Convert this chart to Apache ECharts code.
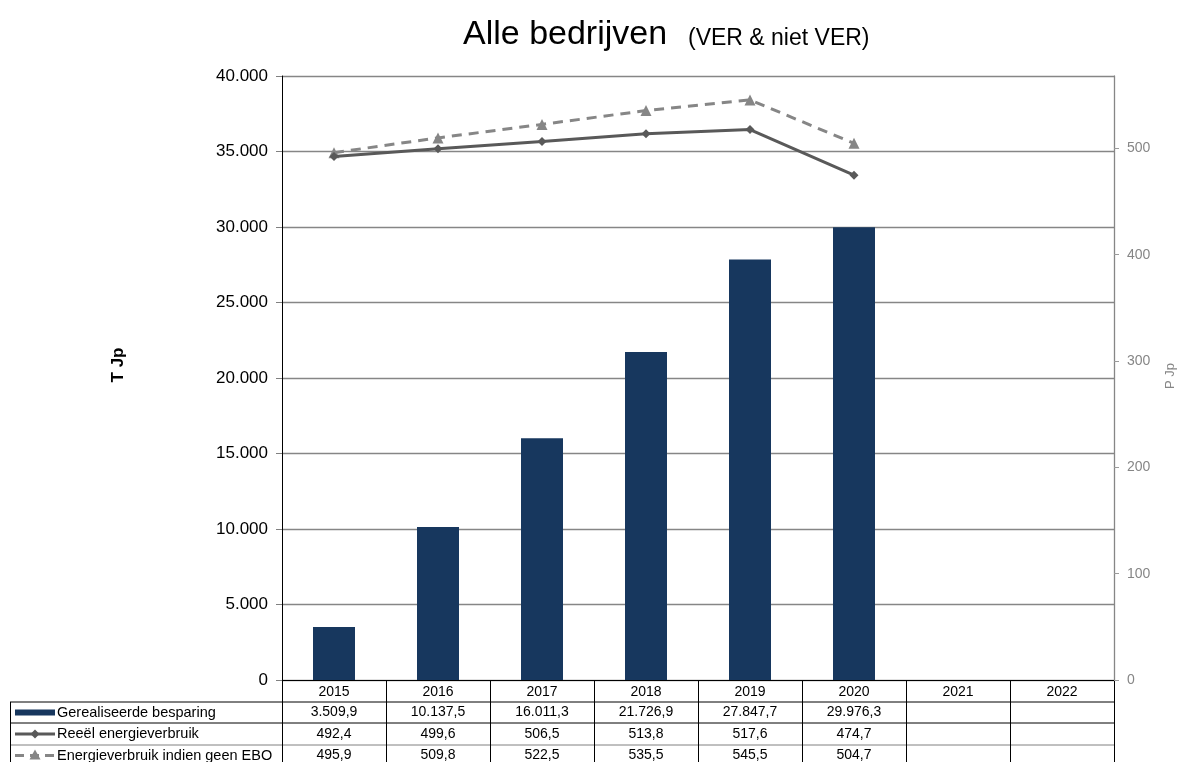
<!DOCTYPE html>
<html>
<head>
<meta charset="utf-8">
<script src="https://cdn.jsdelivr.net/npm/echarts@6/dist/echarts.min.js"></script>
<style>
html,body{margin:0;padding:0;background:#fff;}
#c{width:1179px;height:762px;}
</style>
</head>
<body>
<div id="c"></div>
<script>
const years = ['2015', '2016', '2017', '2018', '2019', '2020', '2021', '2022'];
const besparing = [3509.9, 10137.5, 16011.3, 21726.9, 27847.7, 29976.3, null, null];
const reeel = [492.4, 499.6, 506.5, 513.8, 517.6, 474.7, null, null];
const zonderEBO = [495.9, 509.8, 522.5, 535.5, 545.5, 504.7, null, null];
const seriesNames = ['Gerealiseerde besparing', 'Reeël energieverbruik', 'Energieverbruik indien geen EBO'];
const titleMain = 'Alle bedrijven';
const titleSub = '(VER & niet VER)';
const leftAxisName = 'T Jp';
const rightAxisName = 'P Jp';

const FONT = '"Liberation Sans", Arial, sans-serif';
const BAR = '#17375E', L1 = '#595959', L2 = '#868686';

function nl(v, dec) {
  if (v == null) return '';
  const s = v.toFixed(dec);
  let [i, d] = s.split('.');
  i = i.replace(/\B(?=(\d{3})+(?!\d))/g, '.');
  return d ? i + ',' + d : i;
}

const chart = echarts.init(document.getElementById('c'), null, {renderer: 'canvas'});
const G = {left: 282, right: 65, top: 76, bottom: 82};

chart.setOption({
  animation: false,
  backgroundColor: '#fff',
  textStyle: {fontFamily: FONT},
  grid: G,
  xAxis: {
    type: 'category', data: years,
    axisLine: {show: true, lineStyle: {color: '#000', width: 1}},
    axisTick: {show: false},
    axisLabel: {fontSize: 14, color: '#000', margin: 5, fontFamily: FONT, lineHeight: 14},
    splitLine: {show: false}
  },
  yAxis: [
    {
      type: 'value', min: 0, max: 40000, interval: 5000,
      axisLine: {show: true, lineStyle: {color: '#000', width: 1}},
      axisTick: {show: true, length: 6, lineStyle: {color: '#808080'}},
      axisLabel: {fontSize: 17, color: '#000', margin: 14, fontFamily: FONT, formatter: v => nl(v, 0)},
      splitLine: {show: true, lineStyle: {color: '#868686', width: 1.3}}
    },
    {
      type: 'value', min: 0, max: 568, interval: 100, position: 'right',
      axisLine: {show: true, lineStyle: {color: '#868686', width: 1.3}},
      axisTick: {show: true, length: 5, lineStyle: {color: '#9a9a9a'}},
      axisLabel: {fontSize: 14, color: '#868686', margin: 13, fontFamily: FONT, showMaxLabel: false},
      splitLine: {show: false}
    }
  ],
  series: [
    {
      name: seriesNames[0], type: 'bar', data: besparing, barWidth: 42,
      itemStyle: {color: BAR}, yAxisIndex: 0
    },
    {
      name: seriesNames[1], type: 'line', data: reeel, yAxisIndex: 1,
      symbol: 'diamond', symbolSize: 9, showAllSymbol: true,
      lineStyle: {color: L1, width: 3}, itemStyle: {color: L1}, z: 5
    },
    {
      name: seriesNames[2], type: 'line', data: zonderEBO, yAxisIndex: 1,
      symbol: 'triangle', symbolSize: 11, showAllSymbol: true,
      lineStyle: {color: L2, width: 3, type: [10, 7]}, itemStyle: {color: L2}, z: 4
    }
  ]
});

// data table beneath the plot
const cx = years.map((y, i) => chart.convertToPixel({xAxisIndex: 0}, y));
const band = cx[1] - cx[0];
const x0 = cx[0] - band / 2, x1 = cx[cx.length - 1] + band / 2;
const yAxisBottom = chart.convertToPixel({yAxisIndex: 0}, 0);
const rowLines = [702, 723, 745];
const rowMid = [712.5, 734, 755.5];
const tableLeft = 10, tableBottom = 770;
const g = [];
// title
g.push({type: 'text', left: 463, top: 18, style: {text: titleMain, font: '34px ' + FONT, fill: '#000'}});
g.push({type: 'text', left: 688, top: 27, style: {text: titleSub, font: '23px ' + FONT, fill: '#000'}});
// axis names
g.push({type: 'text', x: 118, y: 365, rotation: Math.PI / 2, style: {text: leftAxisName, font: 'bold 17px ' + FONT, fill: '#000', align: 'center', verticalAlign: 'middle'}});
g.push({type: 'text', x: 1170, y: 376, rotation: Math.PI / 2, style: {text: rightAxisName, font: '13px ' + FONT, fill: '#868686', align: 'center', verticalAlign: 'middle'}});
// horizontal lines
rowLines.forEach((y, i) => {
  g.push({type: 'line', shape: {x1: tableLeft, y1: y, x2: x1, y2: y}, style: {stroke: i === 2 ? '#808080' : '#000', lineWidth: 1}});
});
// vertical lines
for (let k = 0; k <= years.length; k++) {
  const x = Math.round(x0 + k * band) + 0.5;
  g.push({type: 'line', shape: {x1: x, y1: yAxisBottom, x2: x, y2: tableBottom}, style: {stroke: '#000', lineWidth: 1}});
}
g.push({type: 'line', shape: {x1: tableLeft + 0.5, y1: rowLines[0], x2: tableLeft + 0.5, y2: tableBottom}, style: {stroke: '#000', lineWidth: 1}});
// legend keys
g.push({type: 'rect', shape: {x: 15, y: rowMid[0] - 3, width: 40, height: 6}, style: {fill: BAR}});
g.push({type: 'line', shape: {x1: 15, y1: rowMid[1], x2: 55, y2: rowMid[1]}, style: {stroke: L1, lineWidth: 3}});
g.push({type: 'polygon', shape: {points: [[35, rowMid[1] - 4.5], [39.5, rowMid[1]], [35, rowMid[1] + 4.5], [30.5, rowMid[1]]]}, style: {fill: L1}});
g.push({type: 'line', shape: {x1: 15, y1: rowMid[2], x2: 55, y2: rowMid[2]}, style: {stroke: L2, lineWidth: 3, lineDash: [9, 6]}});
g.push({type: 'polygon', shape: {points: [[35, rowMid[2] - 6], [40.5, rowMid[2] + 4], [29.5, rowMid[2] + 4]]}, style: {fill: L2}});
// legend names
seriesNames.forEach((n, r) => {
  g.push({type: 'text', x: 57, y: rowMid[r], style: {text: n, font: '14.5px ' + FONT, fill: '#000', align: 'left', verticalAlign: 'middle'}});
});
// values
[besparing, reeel, zonderEBO].forEach((arr, r) => {
  arr.forEach((v, i) => {
    if (v == null) return;
    g.push({type: 'text', x: cx[i], y: rowMid[r], style: {text: nl(v, 1), font: '14px ' + FONT, fill: '#000', align: 'center', verticalAlign: 'middle'}});
  });
});
chart.setOption({graphic: {elements: g}});
</script>
</body>
</html>
